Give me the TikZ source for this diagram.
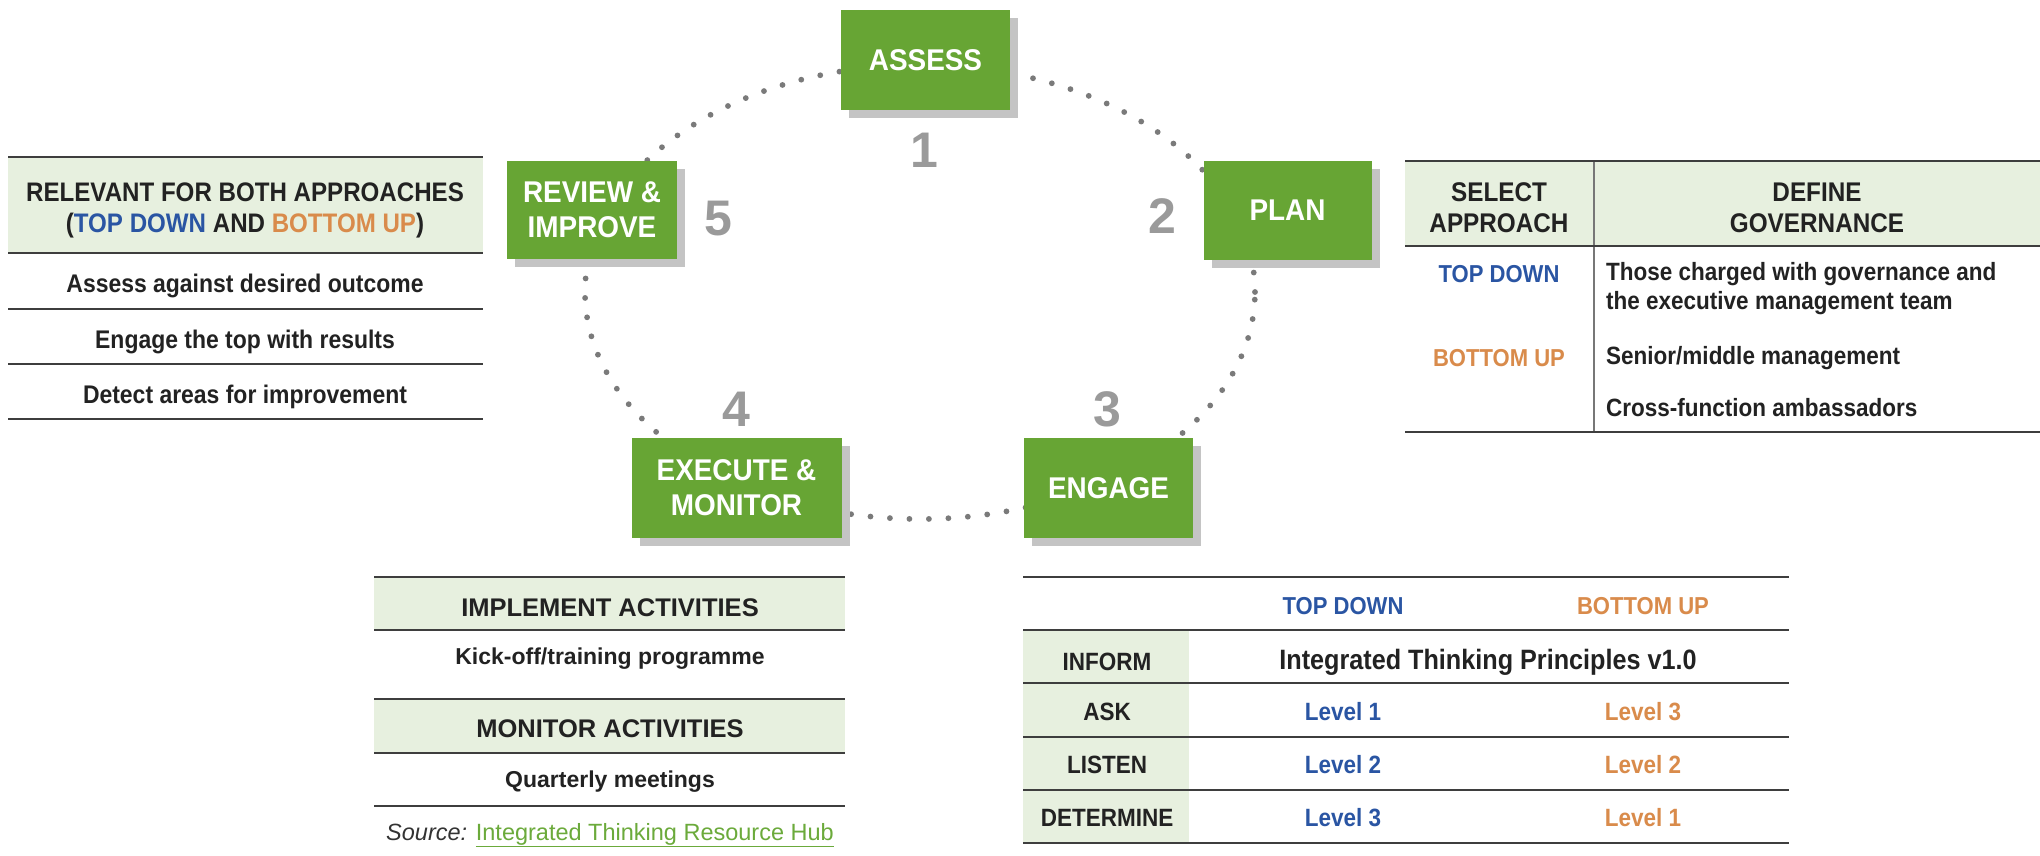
\documentclass[tikz,border=0pt]{standalone}
\usepackage{fontspec}
\setmainfont{Liberation Sans}
\newfontfamily\condf[FakeStretch=0.9]{Liberation Sans}
\newfontfamily\boxf[FakeStretch=0.93]{Liberation Sans}
\usetikzlibrary{shadows}
\definecolor{boxgreen}{HTML}{67A534}
\definecolor{shadowgrey}{HTML}{C4C4C4}
\definecolor{numgrey}{HTML}{9A9A9A}
\definecolor{dotgrey}{HTML}{7A7A7A}
\definecolor{hdrgreen}{HTML}{E7F0DF}
\definecolor{linegrey}{HTML}{3E3E3E}
\definecolor{divgrey}{HTML}{777777}
\definecolor{tdblue}{HTML}{2A55A3}
\definecolor{buorange}{HTML}{D98B4B}
\definecolor{txtblack}{HTML}{222222}
\definecolor{linkgreen}{HTML}{6BAA3B}
\definecolor{srcgrey}{HTML}{333333}
\tikzset{
  stepbox/.style={rectangle, fill=boxgreen, text=white, align=center, inner sep=0pt,
    font=\boxf\bfseries\fontsize{30}{35}\selectfont,
    drop shadow={shadow xshift=8pt, shadow yshift=-8pt, fill=shadowgrey, opacity=1}},
  numlbl/.style={text=numgrey, font=\bfseries\fontsize{50}{50}\selectfont, inner sep=0pt},
  cell/.style={text=txtblack, inner sep=0pt, align=center, font=\condf\bfseries\fontsize{25}{30}\selectfont},
  hcell/.style={text=txtblack, inner sep=0pt, align=center, font=\condf\bfseries\fontsize{27}{31}\selectfont},
  pcell/.style={text=txtblack, inner sep=0pt, align=center, font=\bfseries\fontsize{23}{28}\selectfont},
  phcell/.style={text=txtblack, inner sep=0pt, align=center, font=\bfseries\fontsize{25.5}{30}\selectfont},
  tline/.style={draw=linegrey, line width=1.8pt},
  dotline/.style={draw=dotgrey, line width=5.8pt, line cap=round, dash pattern=on 0pt off 19.5pt}
}
\begin{document}
\begin{tikzpicture}[x=1pt,y=-1pt]
\useasboundingbox (0,0) rectangle (2040,855);
\fill[white] (0,0) rectangle (2040,855);

% dotted cycle
\draw[dotline] (920,292) ellipse [x radius=335pt, y radius=227pt];

% step boxes
\node[stepbox, minimum width=169pt, minimum height=100pt] (assess) at (925.5,60) {ASSESS};
\node[stepbox, minimum width=168pt, minimum height=99pt] (plan) at (1287.5,210.5) {PLAN};
\node[stepbox, minimum width=169pt, minimum height=100pt] (engage) at (1108.5,488) {ENGAGE};
\node[stepbox, minimum width=210pt, minimum height=100pt] (execute) at (736.5,488) {EXECUTE \&\\MONITOR};
\node[stepbox, minimum width=170pt, minimum height=98pt] (review) at (592,210) {REVIEW \&\\IMPROVE};

% numbers
\node[numlbl] (n1) at (924,150) {1};
\node[numlbl] (n2) at (1162,216) {2};
\node[numlbl] (n3) at (1107,409) {3};
\node[numlbl] (n4) at (736,409) {4};
\node[numlbl] (n5) at (718,219) {5};

% ---------- left table ----------
\fill[hdrgreen] (8,157) rectangle (483,253);
\draw[tline] (8,157) -- (483,157);
\draw[tline] (8,253) -- (483,253);
\draw[tline] (8,309) -- (483,309);
\draw[tline] (8,364) -- (483,364);
\draw[tline] (8,419) -- (483,419);
\node[hcell, font=\condf\bfseries\fontsize{26.8}{31}\selectfont] (lh) at (245,210.5)
  {RELEVANT FOR BOTH APPROACHES\\({\color{tdblue}TOP DOWN} AND {\color{buorange}BOTTOM UP})};
\node[cell, font=\condf\bfseries\fontsize{25.5}{30}\selectfont] (l1) at (245,286) {Assess against desired outcome};
\node[cell, font=\condf\bfseries\fontsize{25.5}{30}\selectfont] (l2) at (245,342) {Engage the top with results};
\node[cell, font=\condf\bfseries\fontsize{25.5}{30}\selectfont] (l3) at (245,397) {Detect areas for improvement};

% ---------- top right table ----------
\fill[hdrgreen] (1405,161) rectangle (2040,246);
\draw[draw=divgrey, line width=1.4pt] (1594,161) -- (1594,432);
\draw[tline] (1405,161) -- (2040,161);
\draw[tline] (1405,246) -- (2040,246);
\draw[tline] (1405,432) -- (2040,432);
\node[hcell] (sel) at (1499,207.5) {SELECT\\APPROACH};
\node[hcell] (def) at (1817,207.5) {DEFINE\\GOVERNANCE};
\node[cell, text=tdblue, font=\condf\bfseries\fontsize{24.5}{30}\selectfont] (rtd) at (1499,274) {TOP DOWN};
\node[cell, text=buorange, font=\condf\bfseries\fontsize{24.5}{30}\selectfont] (rbu) at (1499,358) {BOTTOM UP};
\node[cell, anchor=west, align=left, font=\condf\bfseries\fontsize{25}{29}\selectfont] (g1) at (1606,288.5)
  {Those charged with governance and\\the executive management team};
\node[cell, anchor=west, align=left] (g2) at (1606,358) {Senior/middle management};
\node[cell, anchor=west, align=left] (g3) at (1606,408) {Cross-function ambassadors};

% ---------- bottom left table ----------
\fill[hdrgreen] (374,577) rectangle (845,630);
\fill[hdrgreen] (374,699) rectangle (845,753);
\draw[tline] (374,577) -- (845,577);
\draw[tline] (374,630) -- (845,630);
\draw[tline] (374,699) -- (845,699);
\draw[tline] (374,753) -- (845,753);
\draw[tline] (374,806) -- (845,806);
\node[phcell] (impl) at (610,608) {IMPLEMENT ACTIVITIES};
\node[pcell] (kick) at (610,659) {Kick-off/training programme};
\node[phcell] (mon) at (610,729) {MONITOR ACTIVITIES};
\node[pcell] (qm) at (610,782) {Quarterly meetings};
\node[inner sep=0pt, font=\fontsize{23.5}{28}\selectfont, text=srcgrey] (src) at (610,835)
  {{\itshape Source:} {\color{linkgreen}\underline{Integrated Thinking Resource Hub}}};

% ---------- bottom right table ----------
\fill[hdrgreen] (1023,630) rectangle (1189,843);
\draw[tline] (1023,577) -- (1789,577);
\draw[tline] (1023,630) -- (1789,630);
\draw[tline] (1023,683) -- (1789,683);
\draw[tline] (1023,737) -- (1789,737);
\draw[tline] (1023,790) -- (1789,790);
\draw[tline] (1023,843) -- (1789,843);
\node[cell, text=tdblue, font=\condf\bfseries\fontsize{24.5}{30}\selectfont] (btd) at (1343,606) {TOP DOWN};
\node[cell, text=buorange, font=\condf\bfseries\fontsize{24.5}{30}\selectfont] (bbu) at (1643,606) {BOTTOM UP};
\node[cell] (inform) at (1107,662) {INFORM};
\node[cell, font=\condf\bfseries\fontsize{28}{32}\selectfont] (itp) at (1488,662) {Integrated Thinking Principles v1.0};
\node[cell] (ask) at (1107,712) {ASK};
\node[cell, text=tdblue] (a1) at (1343,712) {Level 1};
\node[cell, text=buorange] (a2) at (1643,712) {Level 3};
\node[cell] (listen) at (1107,765) {LISTEN};
\node[cell, text=tdblue] (li1) at (1343,765) {Level 2};
\node[cell, text=buorange] (li2) at (1643,765) {Level 2};
\node[cell] (det) at (1107,818) {DETERMINE};
\node[cell, text=tdblue] (d1) at (1343,818) {Level 3};
\node[cell, text=buorange] (d2) at (1643,818) {Level 1};
\end{tikzpicture}
\end{document}
